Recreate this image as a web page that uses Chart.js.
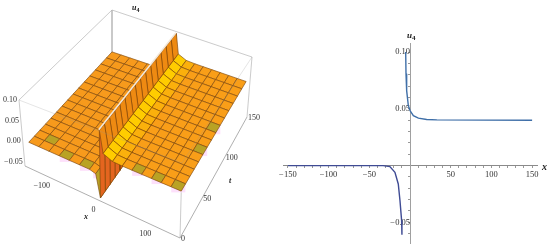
<!DOCTYPE html>
<html>
<head>
<meta charset="utf-8">
<style>
  html, body { margin: 0; padding: 0; background: #fff; }
  body { width: 550px; height: 247px; position: relative; overflow: hidden; }
  canvas { position: absolute; top: 0; filter: blur(0.35px); }
  #surface { left: 0; }
  #curve { left: 270px; }
</style>
</head>
<body>
<canvas id="surface" width="270" height="247"></canvas>
<canvas id="curve" width="280" height="253"></canvas>
<script src="https://cdn.jsdelivr.net/npm/chart.js@4"></script>
<script>
// surface u4(x,t)
const xGrid = [-150, -130, -110, -90, -70, -50, -30, -18, -10, -8, -2, 16, 35, 54, 73, 92, 111, 130, 150];
const uProfile = [0, 0, 0, 0, 0, 0, 0, -0.004, -0.055, 0.1, 0.05, 0.041, 0.04, 0.04, 0.04, 0.04, 0.04, 0.04, 0.04];
const tGrid = [0, 10, 20, 30, 40, 50, 60, 70, 80, 90, 100, 110, 120, 130, 140, 150];

// curve u4(x)
const upperX = [-5.3, -4.9, -4.1, -2.1, 0, 4.1, 10.3, 20.5, 33, 150];
const upperU = [0.1, 0.081, 0.066, 0.053, 0.0485, 0.044, 0.0418, 0.0406, 0.0403, 0.04];
const lowerX = [-150, -33, -24.7, -18.5, -14.4, -12.3, -10.3, -9.9];
const lowerU = [0, 0, -0.0009, -0.0059, -0.0162, -0.0309, -0.0485, -0.0609];

const zTicks = [0.1, 0.05, 0, -0.05];
const xTicks = [-100, 0, 100];
const tTicks = [0, 50, 100, 150];
const yCurveLabels = [-0.05, 0.05, 0.1];
const xCurveLabels = [-150, -100, -50, 50, 100, 150];

// column colours, cells that came out olive, box corners (low z then high z)
const colColors = ['#f79a1c', '#f79a1c', '#f79a1c', '#f79a1c', '#f79a1c', '#f79a1c', '#f89c1a', '#ffc400', '#e4651f', '#ee8a12', '#ffcc00', '#fbb00c', '#f99e18', '#f99e18', '#f99e18', '#f99e18', '#f99e18', '#f99e18'];
const oliveCells = [[1, 1], [3, 0], [5, 0], [7, 0], [13, 0], [15, 0], [17, 0], [17, 5], [17, 8]];
const boxLow = [[25, 166], [180, 238], [247, 117], [112, 77]];
const boxHigh = [[19, 100], [182, 163], [252, 57], [112, 10]];
const Z_MIN = -0.06, Z_MAX = 0.1;

function lerp(a, b, f) { return a + (b - a) * f; }

function project(x, t, u) {
  const fx = (x + 150) / 300, ft = t / 150, fz = (u - Z_MIN) / (Z_MAX - Z_MIN);
  const out = {};
  [0, 1].forEach(function (k) {
    const lo = lerp(lerp(boxLow[0][k], boxLow[1][k], fx), lerp(boxLow[3][k], boxLow[2][k], fx), ft);
    const hi = lerp(lerp(boxHigh[0][k], boxHigh[1][k], fx), lerp(boxHigh[3][k], boxHigh[2][k], fx), ft);
    out[k === 0 ? 'x' : 'y'] = lerp(lo, hi, fz);
  });
  return out;
}

// the surface sits slightly inside the box at its left and right corners
function projectSurface(x, t, u) {
  const p = project(x, t, u);
  const fx = (x + 150) / 300, ft = t / 150;
  return {
    x: p.x + 6 * (1 - fx) * (1 - ft) - 4 * fx * ft,
    y: p.y + (1 - fx) * (1 - ft) + 2 * fx * ft
  };
}

function polyline(points, opts) {
  return Object.assign({ type: 'scatter', showLine: true, data: points, pointRadius: 0, tension: 0, fill: false, borderWidth: 0.7 }, opts);
}

function boxEdge(a, b, color) {
  return polyline([project(a[0], a[1], a[2]), project(b[0], b[1], b[2])], { borderColor: color });
}

const surfaceSets = [];
const BOX_GREY = '#b4b4b4';
const BOX_FAINT = 'rgba(150,150,150,0.35)';

// back of the box first
surfaceSets.push(boxEdge([-150, 0, Z_MAX], [-150, 150, Z_MAX], BOX_GREY));
surfaceSets.push(boxEdge([-150, 150, Z_MAX], [150, 150, Z_MAX], BOX_GREY));
surfaceSets.push(boxEdge([150, 150, Z_MAX], [150, 150, Z_MIN], BOX_GREY));
surfaceSets.push(boxEdge([-150, 150, Z_MAX], [-150, 150, Z_MIN], BOX_GREY));
surfaceSets.push(boxEdge([-150, 0, Z_MAX], [-150, 0, Z_MIN], BOX_GREY));
surfaceSets.push(boxEdge([-150, 0, Z_MIN], [150, 0, Z_MIN], '#8c8c8c'));
surfaceSets.push(boxEdge([150, 0, Z_MIN], [150, 150, Z_MIN], '#8c8c8c'));
surfaceSets.push(boxEdge([150, 0, Z_MIN], [150, 0, Z_MAX], BOX_GREY));

// pale halo that the source image has around the olive cells
surfaceSets.push({
  type: 'scatter',
  data: oliveCells.map(function (c) {
    return projectSurface((xGrid[c[0]] + xGrid[c[0] + 1]) / 2, (tGrid[c[1]] + tGrid[c[1] + 1]) / 2, uProfile[c[0]]);
  }),
  pointStyle: 'rect',
  pointRadius: 10,
  borderWidth: 0,
  backgroundColor: '#fde0fb'
});

// cells, far to near
for (let i = 0; i < xGrid.length - 1; i++) {
  for (let j = tGrid.length - 2; j >= 0; j--) {
    const olive = oliveCells.some(function (c) { return c[0] === i && c[1] === j; });
    surfaceSets.push(polyline([
      projectSurface(xGrid[i], tGrid[j], uProfile[i]),
      projectSurface(xGrid[i + 1], tGrid[j], uProfile[i + 1]),
      projectSurface(xGrid[i + 1], tGrid[j + 1], uProfile[i + 1]),
      projectSurface(xGrid[i], tGrid[j + 1], uProfile[i]),
      projectSurface(xGrid[i], tGrid[j], uProfile[i])
    ], {
      backgroundColor: olive ? '#b9a224' : colColors[i],
      fill: 'shape',
      borderColor: 'rgba(125,70,10,0.8)',
      borderWidth: 0.8
    }));
  }
}

// pale sliver along the crest
surfaceSets.push(polyline([projectSurface(-9, 0, 0.101), projectSurface(-9, 150, 0.101)], { borderColor: '#f4e8d8', borderWidth: 1.6 }));

// front of the box over the surface
surfaceSets.push(boxEdge([-150, 0, Z_MAX], [150, 0, Z_MAX], BOX_FAINT));
surfaceSets.push(boxEdge([150, 0, Z_MAX], [150, 150, Z_MAX], BOX_FAINT));

function subLabel(ctx, x, y, main, sub, size) {
  ctx.save();
  ctx.fillStyle = '#222';
  ctx.textBaseline = 'middle';
  ctx.textAlign = 'left';
  ctx.font = 'italic bold ' + size + 'px "Liberation Serif"';
  ctx.fillText(main, x, y);
  if (sub) {
    const w = ctx.measureText(main).width;
    ctx.font = 'bold ' + (size - 2) + 'px "Liberation Serif"';
    ctx.fillText(sub, x + w, y + 2);
  }
  ctx.restore();
}

function numText(v, digits) {
  return (v < 0 ? '\u2212' : '') + Math.abs(v).toFixed(digits);
}

const surfaceLabels = {
  id: 'surfaceLabels',
  afterDatasetsDraw(chart) {
    const ctx = chart.ctx;
    const sx = chart.scales.x, sy = chart.scales.y;
    function put(p, dx, dy, text) {
      ctx.fillText(text, sx.getPixelForValue(p.x) + dx, sy.getPixelForValue(p.y) + dy);
    }
    ctx.save();
    ctx.fillStyle = '#333';
    ctx.font = '8px "Liberation Serif"';
    ctx.textBaseline = 'middle';
    ctx.textAlign = 'right';
    zTicks.forEach(function (z) { put(project(-150, 0, z), -2, 0, numText(z, 2)); });
    ctx.textAlign = 'center';
    xTicks.forEach(function (x) { put(project(x, 0, Z_MIN), -9, 8, numText(x, 0)); });
    ctx.textAlign = 'left';
    tTicks.forEach(function (t) { put(project(150, t, Z_MIN), 1, 1, String(t)); });
    ctx.restore();
    subLabel(ctx, 132, 8, 'u', '4', 8);
    subLabel(ctx, 84, 217, 'x', '', 8);
    subLabel(ctx, 229, 181, 't', '', 8);
  }
};

new Chart(document.getElementById('surface').getContext('2d'), {
  type: 'scatter',
  data: { datasets: surfaceSets.slice().reverse() },
  plugins: [surfaceLabels],
  options: {
    responsive: false,
    animation: false,
    layout: { padding: 0, autoPadding: false },
    plugins: { legend: { display: false }, tooltip: { enabled: false } },
    scales: {
      x: { type: 'linear', display: false, min: 0, max: 270 },
      y: { type: 'linear', display: false, min: 0, max: 247, reverse: true }
    }
  }
});

const curveTitles = {
  id: 'curveTitles',
  afterDraw(chart) {
    subLabel(chart.ctx, 137, 36, 'u', '4', 9);
    subLabel(chart.ctx, 272, 167, 'x', '', 10);
  }
};

new Chart(document.getElementById('curve').getContext('2d'), {
  type: 'scatter',
  data: {
    datasets: [
      { data: upperX.map((x, i) => ({ x: x, y: upperU[i] })), showLine: true, borderColor: '#3f6fa8', borderWidth: 1.4, pointRadius: 0, tension: 0 },
      { data: lowerX.map((x, i) => ({ x: x, y: lowerU[i] })), showLine: true, borderColor: '#3f4b94', borderWidth: 1.4, pointRadius: 0, tension: 0 }
    ]
  },
  plugins: [curveTitles],
  options: {
    responsive: false,
    animation: false,
    layout: { padding: { left: 13, right: 13, top: 43, bottom: 4 }, autoPadding: false },
    plugins: { legend: { display: false }, tooltip: { enabled: false } },
    scales: {
      x: {
        type: 'linear',
        min: -156,
        max: 156,
        position: { y: 0 },
        border: { color: '#8a8a8a', width: 1 },
        grid: { drawOnChartArea: false, tickLength: 2, tickColor: '#999' },
        ticks: {
          stepSize: 10,
          includeBounds: false,
          autoSkip: false,
          maxRotation: 0,
          padding: 2,
          color: '#333',
          font: { family: 'Liberation Serif', size: 8.5 },
          callback: function (v) { return xCurveLabels.includes(v) ? numText(v, 0) : ''; }
        }
      },
      y: {
        type: 'linear',
        min: -0.069,
        max: 0.108,
        position: { x: 0 },
        border: { color: '#a0a0a0', width: 1 },
        grid: { drawOnChartArea: false, tickLength: 2, tickColor: '#999' },
        ticks: {
          stepSize: 0.01,
          includeBounds: false,
          autoSkip: false,
          padding: 4,
          color: '#333',
          font: { family: 'Liberation Serif', size: 8.5 },
          callback: function (v) {
            const r = Math.round(v * 100) / 100;
            return yCurveLabels.includes(r) ? numText(r, 2) : '';
          }
        }
      }
    }
  }
});
</script>
</body>
</html>
